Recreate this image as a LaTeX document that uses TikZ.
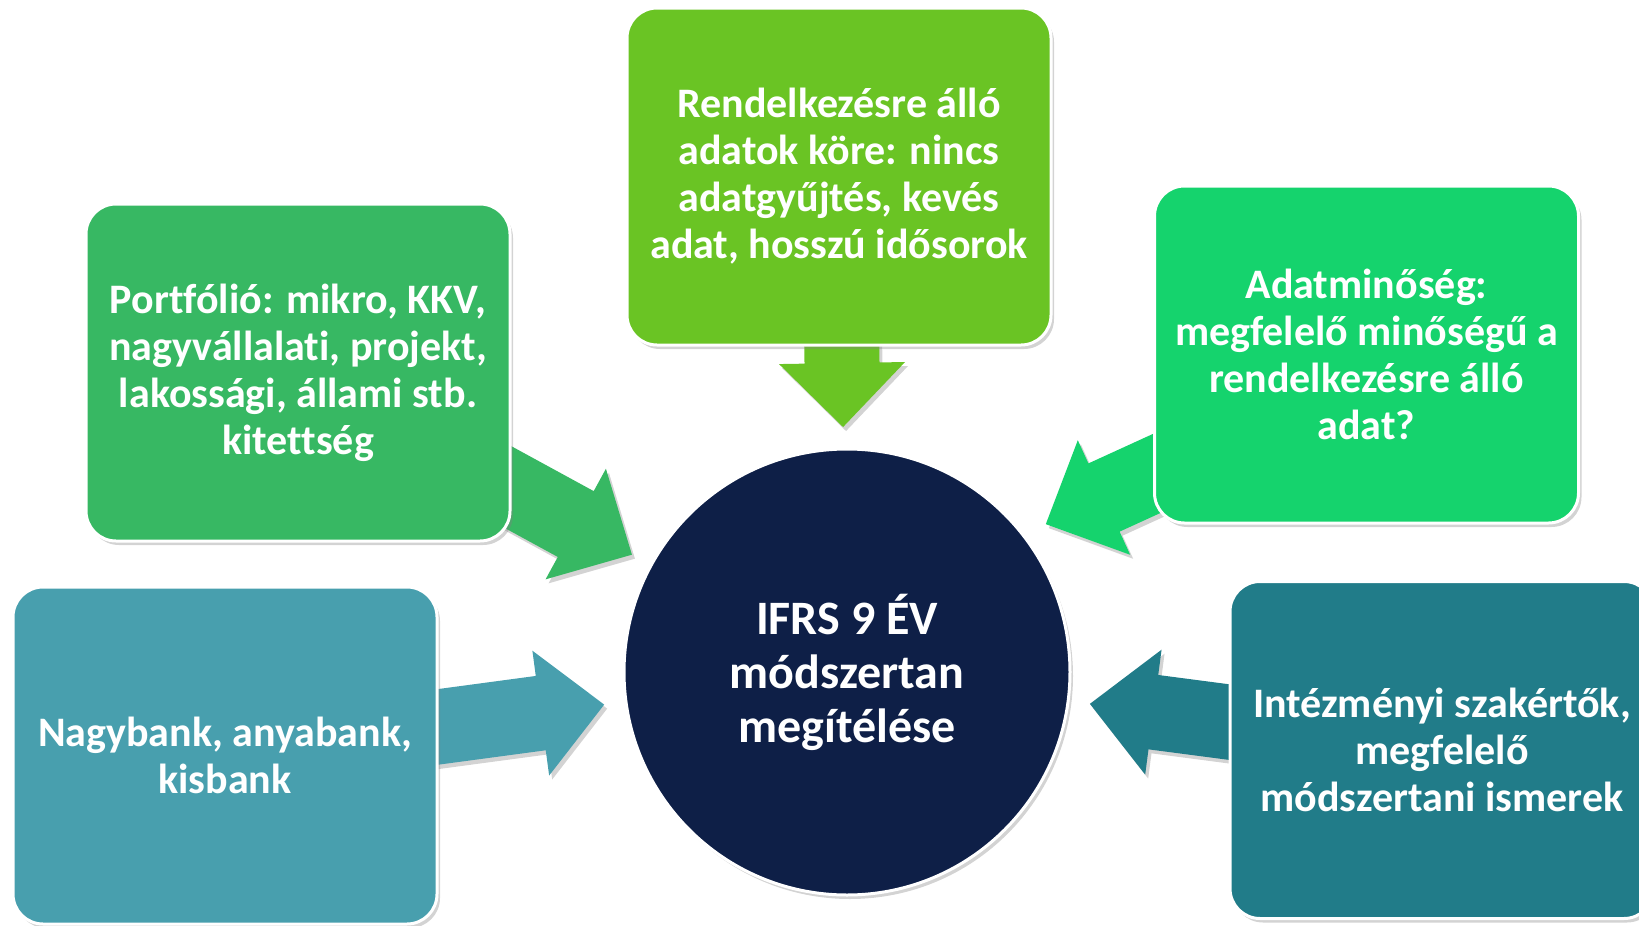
\documentclass[tikz,border=0pt]{standalone}
\usepackage{fontspec}
\setmainfont[Ligatures=NoCommon]{Carlito}
\usepackage{xcolor}
\usepackage{tikz}
\usetikzlibrary{shapes.geometric, calc, shadows, backgrounds}
\definecolor{topgreen}{RGB}{106,196,36}
\definecolor{midgreen}{RGB}{55,184,99}
\definecolor{brightgreen}{RGB}{21,211,109}
\definecolor{lightteal}{RGB}{72,159,174}
\definecolor{darkteal}{RGB}{33,124,137}
\definecolor{navy}{RGB}{14,31,71}
\tikzstyle{softshadow} = [drop shadow={opacity=0.35, shadow xshift=1.5pt, shadow yshift=-2pt}]
\tikzstyle{infobox} = [rectangle, rounded corners=15pt, minimum width=212pt, minimum height=168.5pt, draw=white, line width=1.5pt, text=white, align=center, font=\fontsize{21}{23.5}\selectfont\bfseries, softshadow]
\tikzstyle{hub} = [circle, minimum size=223pt, draw=white, line width=1.5pt, fill=navy, text=white, align=center, font=\fontsize{24}{27}\selectfont\bfseries, softshadow]
% fat arrow from a box centre towards an aim point, tip stops short of it
\newcommand{\fatarrow}[3]{%
  \coordinate (tip) at ($(#3)!122.5pt!(#2)$);
  \coordinate (base) at ($(tip)!32pt!(#2)$);
  \fill[#1, softshadow] ($(#2)!18.75pt!90:(tip)$) -- ($(base)!18.75pt!90:(tip)$)
    -- ($(base)!31.5pt!90:(tip)$) -- (tip) -- ($(base)!31.5pt!-90:(tip)$)
    -- ($(base)!18.75pt!-90:(tip)$) -- ($(#2)!18.75pt!-90:(tip)$) -- cycle;
}

\begin{document}
\begin{tikzpicture}[x=0.5pt, y=-0.5pt]
    \useasboundingbox (0,0) rectangle (1639,926);
    % Nodes
    \node [hub] (core) at (847,672) {IFRS 9 ÉV\\módszertan\\megítélése};
    \node [infobox, fill=topgreen] (data) at (839,176.5) {Rendelkezésre álló\\adatok köre: nincs\\adatgyűjtés, kevés\\adat, hosszú idősorok};
    \node [infobox, fill=midgreen] (portfolio) at (298,372.5) {Portfólió: mikro, KKV,\\nagyvállalati, projekt,\\lakossági, állami stb.\\kitettség};
    \node [infobox, fill=brightgreen] (quality) at (1366.5,354.5) {Adatminőség:\\megfelelő minőségű a\\rendelkezésre álló\\adat?};
    \node [infobox, fill=lightteal] (banksize) at (225,755.5) {Nagybank, anyabank,\\kisbank};
    \node [infobox, fill=darkteal] (experts) at (1442,750) {Intézményi szakértők,\\megfelelő\\módszertani ismerek};
    \coordinate (qualityaim) at ($(core.center)+(-24,-46)$);
    \coordinate (qualityfoot) at ($(quality.center)+(0,23)$);

    % Arrows
    \begin{scope}[on background layer]
        \fatarrow{topgreen}{data.center}{core.center}
        \fatarrow{midgreen}{portfolio.center}{core.center}
        \fatarrow{brightgreen}{qualityfoot}{qualityaim}
        \fatarrow{lightteal}{banksize.center}{core.center}
        \fatarrow{darkteal}{experts.center}{core.center}
    \end{scope}
\end{tikzpicture}
\end{document}
